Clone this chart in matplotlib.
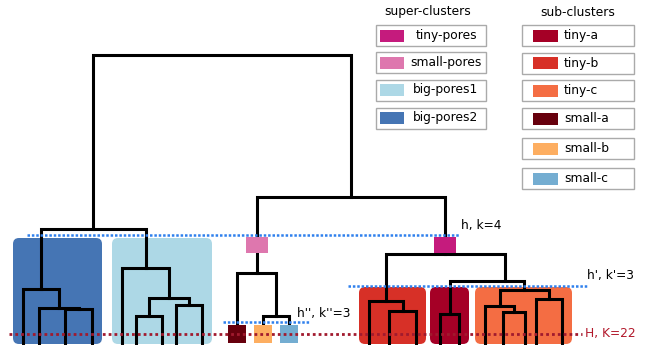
"""Two-level pore clustering dendrogram with super/sub cluster cuts."""
import matplotlib
matplotlib.use('Agg')
import matplotlib.pyplot as plt
from matplotlib.patches import FancyBboxPatch, Rectangle

W, H = 648, 345

# leaf positions along the x axis
leaf_x = {
    'b1': 23, 'b2': 39, 'b3': 65, 'b4': 92,
    'l1': 122, 'l2': 136, 'l3': 162, 'l4': 176, 'l5': 202,
    'sa': 237, 'sb': 263, 'sc': 289,
    't1': 369, 't2': 389, 't3': 416,
    'a1': 440, 'a2': 459,
    'c1': 485, 'c2': 503, 'c3': 525, 'c4': 536, 'c5': 562,
}
# small-pores leaves stop at their sub-cluster squares
leaf_bottom = {'sa': 20, 'sb': 20, 'sc': 20}

# merges: (node, left child, right child, merge height)
merges = [
    ('db1', 'b3', 'b4', 35.7),
    ('db2', 'b2', 'db1', 36.7),
    ('big2', 'b1', 'db2', 56),
    ('lb1', 'l2', 'l3', 29),
    ('lb2', 'l4', 'l5', 40),
    ('lb3', 'lb1', 'lb2', 47),
    ('big1', 'l1', 'lb3', 77),
    ('big', 'big2', 'big1', 116),
    ('sm1', 'sb', 'sc', 29),
    ('small', 'sa', 'sm1', 72),
    ('tb1', 't2', 't3', 34),
    ('tinyb', 't1', 'tb1', 44),
    ('tinya', 'a1', 'a2', 31),
    ('tc1', 'c2', 'c3', 33),
    ('tc2', 'c1', 'tc1', 39),
    ('tc3', 'c4', 'c5', 46),
    ('tinyc', 'tc2', 'tc3', 55),
    ('ac', 'tinya', 'tinyc', 64),
    ('tiny', 'tinyb', 'ac', 91),
    ('right', 'small', 'tiny', 148),
    ('root', 'big', 'right', 290),
]
node_x_override = {'ac': 505}

# super-clusters
super_names = ['tiny-pores', 'small-pores', 'big-pores1', 'big-pores2']
super_colors = ['#c51b7d', '#de77ae', '#add8e6', '#4575b4']
# sub-clusters
sub_names = ['tiny-a', 'tiny-b', 'tiny-c', 'small-a', 'small-b', 'small-c']
sub_colors = ['#a50026', '#d73027', '#f46d43', '#67000d', '#fdae61', '#74add1']

# shaded cluster regions: (colour, leaves, top)
regions = [
    ('#4575b4', ['b1', 'b4'], 107),
    ('#add8e6', ['l1', 'l5'], 107),
    ('#d73027', ['t1', 't3'], 58),
    ('#a50026', ['a1', 'a2'], 58),
    ('#f46d43', ['c1', 'c5'], 58),
]
leaf_squares = [('sa', '#67000d'), ('sb', '#fdae61'), ('sc', '#74add1')]
node_squares = [('small', '#de77ae'), ('tiny', '#c51b7d')]

# cut levels: (height, x from, x to, colour, label, label x, label y)
cuts = [
    (110, 27, 460, '#2f80ed', 'h, k=4', 461, 120, 'black'),
    (59, 348, 587, '#2f80ed', "h', k'=3", 587, 70, 'black'),
    (23, 223, 310, '#2f80ed', "h'', k''=3", 297, 32, 'black'),
    (11, 9, 582, '#a11a2e', 'H, K=22', 585, 11, '#b2182b'),
]

fig = plt.figure(figsize=(W / 100, H / 100), dpi=100)
ax = fig.add_axes([0, 0, 1, 1])
ax.set_xlim(0, W)
ax.set_ylim(0, H)
ax.axis('off')

# node positions
pos = {k: (v, leaf_bottom.get(k, 0)) for k, v in leaf_x.items()}
for name, a, b, h in merges:
    x = node_x_override.get(name, (pos[a][0] + pos[b][0]) / 2)
    pos[name] = (x, h)

lw = 2.2
for name, a, b, h in merges:
    xa, ya = pos[a]
    xb, yb = pos[b]
    ax.plot([xa, xa, xb, xb], [ya, h, h, yb], color='black', lw=lw,
            solid_joinstyle='miter', zorder=3)

# cluster backgrounds
for color, (l0, l1), top in regions:
    x0, x1 = leaf_x[l0] - 10, leaf_x[l1] + 10
    ax.add_patch(FancyBboxPatch((x0, 1), x1 - x0, top - 1,
                                boxstyle='round,pad=0,rounding_size=6',
                                facecolor=color, edgecolor='none', zorder=1))

for leaf, color in leaf_squares:
    x = leaf_x[leaf]
    ax.add_patch(Rectangle((x - 9, 2), 18, 18, facecolor=color,
                           edgecolor='none', zorder=4))
for node, color in node_squares:
    x = pos[node][0]
    ax.add_patch(Rectangle((x - 11, 92), 22, 16, facecolor=color,
                           edgecolor='none', zorder=4))

for h, x0, x1, color, label, tx, ty, tcol in cuts:
    dash = (1, 1.1) if label.startswith('H') else (1, 0.75)
    ax.plot([x0, x1], [h, h], color=color, lw=2.0 if label.startswith('H') else 1.8,
            linestyle=(0, dash), dash_capstyle='butt', zorder=5)
    ax.text(tx, ty, label, fontsize=8.8, color=tcol, ha='left', va='center', zorder=6)

# legends
fs = 8.8
ax.text(428, H - 12, 'super-clusters', fontsize=fs, ha='center', va='center')
ax.text(578, H - 12, 'sub-clusters', fontsize=fs, ha='center', va='center')

super_rows = [35.5, 62.5, 90, 118]
for name, color, py in zip(super_names, super_colors, super_rows):
    y = H - py
    ax.add_patch(Rectangle((376, y - 10.5), 110, 21, facecolor='white',
                           edgecolor='#aaaaaa', lw=1.0, zorder=2))
    ax.add_patch(Rectangle((380, y - 6), 24, 12, facecolor=color,
                           edgecolor='none', zorder=3))
    ax.text(446, y, name, fontsize=fs, ha='center', va='center', zorder=3)

sub_rows = [35.5, 63, 90.5, 118.5, 148.5, 178.5]
for name, color, py in zip(sub_names, sub_colors, sub_rows):
    y = H - py
    ax.add_patch(Rectangle((522, y - 10.5), 112, 21, facecolor='white',
                           edgecolor='#aaaaaa', lw=1.0, zorder=2))
    ax.add_patch(Rectangle((533, y - 6), 25, 12, facecolor=color,
                           edgecolor='none', zorder=3))
    ax.text(564, y, name, fontsize=fs, ha='left', va='center', zorder=3)

fig.savefig('out.png', dpi=100)
plt.close(fig)
